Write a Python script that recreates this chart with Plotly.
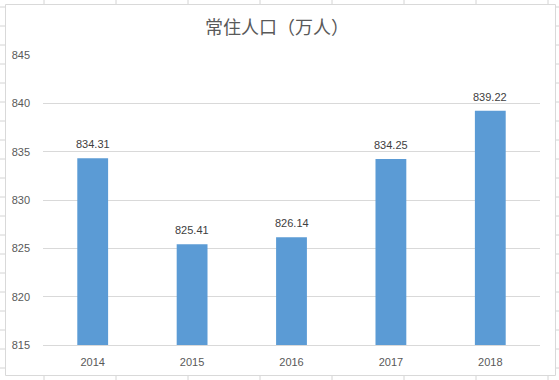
import plotly.graph_objects as go

years = ["2014", "2015", "2016", "2017", "2018"]
population = [834.31, 825.41, 826.14, 834.25, 839.22]
y_ticks = [815, 820, 825, 830, 835, 840, 845]
title_text = "常住人口（万人）"

W, H = 559, 380
L, R, T, B = 43, 19, 55, 35
PW, PH = W - L - R, H - T - B

def px(x):
    return (x - L) / PW

def py(y):
    return (H - B - y) / PH

cell_line = "#D4D4D4"
shapes = []
# spreadsheet cell lines outside the chart box
for cx in [44, 116, 188, 260, 332, 404, 476, 548]:
    shapes.append(dict(type="line", xref="paper", yref="paper", x0=px(cx), x1=px(cx),
                       y0=py(0), y1=py(4), line=dict(color=cell_line, width=1), layer="below"))
    shapes.append(dict(type="line", xref="paper", yref="paper", x0=px(cx), x1=px(cx),
                       y0=py(375), y1=py(380), line=dict(color=cell_line, width=1), layer="below"))
for ry in range(7, 380, 19):
    shapes.append(dict(type="line", xref="paper", yref="paper", x0=px(0), x1=px(5),
                       y0=py(ry), y1=py(ry), line=dict(color=cell_line, width=1), layer="below"))
    shapes.append(dict(type="line", xref="paper", yref="paper", x0=px(555), x1=px(559),
                       y0=py(ry), y1=py(ry), line=dict(color=cell_line, width=1), layer="below"))
# chart border
shapes.append(dict(type="rect", xref="paper", yref="paper", x0=px(5.5), x1=px(555.5),
                   y0=py(375.5), y1=py(4.5), line=dict(color="#D9D9D9", width=1),
                   fillcolor="rgba(0,0,0,0)", layer="below"))

fig = go.Figure()
fig.add_trace(go.Bar(
    x=years, y=population,
    marker=dict(color="#5B9BD5", line=dict(width=0)),
    width=0.31,
    hoverinfo="skip",
))

annotations = [
    dict(x=i, y=v, xref="x", yref="y", text=f"{v:.2f}", showarrow=False,
         yanchor="middle", yshift=14,
         font=dict(family="Liberation Sans, Arial, sans-serif", size=11, color="#404040"))
    for i, v in enumerate(population)
]

fig.update_layout(
    width=W, height=H,
    margin=dict(l=L, r=R, t=T, b=B, pad=0),
    paper_bgcolor="white",
    plot_bgcolor="rgba(0,0,0,0)",
    showlegend=False,
    title=dict(text=title_text, x=277 / W, xref="container", xanchor="center",
               y=1 - 28 / H, yref="container", yanchor="middle",
               font=dict(family="Noto Sans CJK SC, sans-serif", size=18, color="#595959")),
    font=dict(family="Liberation Sans, Arial, sans-serif", size=11, color="#595959"),
    xaxis=dict(type="category", categoryorder="array", categoryarray=years,
               range=[-0.5, len(years) - 0.5], autorange=False,
               showgrid=False, showline=True, linecolor="#D9D9D9",
               linewidth=1, ticks="", ticklabelstandoff=7, fixedrange=True),
    yaxis=dict(range=[815, 845], autorange=False, tickvals=y_ticks, showgrid=True,
               gridcolor="#D9D9D9", gridwidth=1, zeroline=False, showline=False, ticks="",
               ticklabelstandoff=12, fixedrange=True),
    shapes=shapes,
    annotations=annotations,
)

fig.write_html(
    "out.html",
    config={"displayModeBar": False},
    post_script="document.body.style.margin='0';document.body.style.overflow='hidden';",
)
